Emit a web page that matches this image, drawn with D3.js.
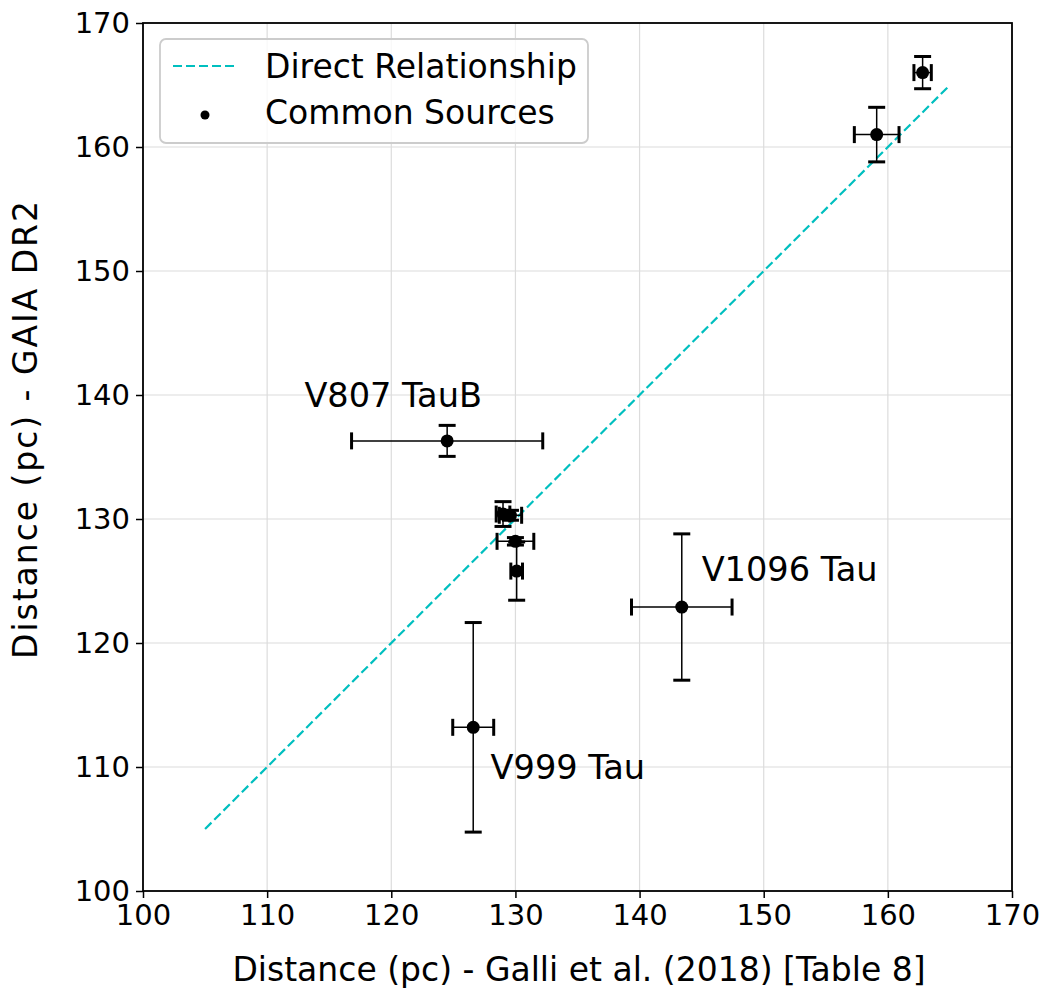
<!DOCTYPE html>
<html><head><meta charset="utf-8">
<script src="https://cdn.jsdelivr.net/npm/d3@7"></script>
<style>body{margin:0;background:#fff;} text{font-family:"DejaVu Sans",sans-serif;}</style>
</head><body>
<svg id="chart" width="1051" height="992"></svg>
<script>
// Data
const galliDist = [162.8, 159.1, 124.5, 143.4, 126.6, 129.0, 129.6, 130.0, 130.1];
const galliErr  = [0.7, 1.8, 7.7, 4.05, 1.65, 0.55, 0.9, 1.48, 0.47];
const gaiaDist  = [166.0, 161.0, 136.3, 122.9, 113.2, 130.4, 130.3, 128.2, 125.8];
const gaiaErr   = [1.3, 2.2, 1.25, 5.9, 8.45, 1.0, 0.4, 0.3, 2.35];
const labelNames = ["V807 TauB", "V1096 Tau", "V999 Tau"];
const labelX = [113, 145, 128];
const labelY = [139, 125, 109];
const directLine = [105, 165];
const xTicks = [100, 110, 120, 130, 140, 150, 160, 170];
const yTicks = [100, 110, 120, 130, 140, 150, 160, 170];

const svg = d3.select("#chart");
const L = 143, R = 1012, T = 23, B = 891;
const x = d3.scaleLinear().domain([100, 170]).range([L, R]);
const y = d3.scaleLinear().domain([100, 170]).range([B, T]);
const fsTick = 29, fs = 33;

// grid
svg.append("g").selectAll("line").data(xTicks).join("line")
  .attr("x1", d => x(d)).attr("x2", d => x(d)).attr("y1", T).attr("y2", B)
  .attr("stroke", "#dcdcdc").attr("stroke-width", 1.2);
svg.append("g").selectAll("line").data(yTicks).join("line")
  .attr("y1", d => y(d)).attr("y2", d => y(d)).attr("x1", L).attr("x2", R)
  .attr("stroke", "#dcdcdc").attr("stroke-width", 1.2);

// direct line
svg.append("line")
  .attr("x1", x(directLine[0])).attr("y1", y(directLine[0]))
  .attr("x2", x(directLine[1])).attr("y2", y(directLine[1]))
  .attr("stroke", "#00bfbf").attr("stroke-width", 2.2).attr("stroke-dasharray", "9,4");

// error bars
const pts = galliDist.map((d, i) => ({x: d, y: gaiaDist[i], xe: galliErr[i], ye: gaiaErr[i]}));
const eb = svg.append("g");
const cap = 8.5;
pts.forEach(p => {
  const g = eb.append("g");
  g.append("line").attr("x1", x(p.x - p.xe)).attr("x2", x(p.x + p.xe)).attr("y1", y(p.y)).attr("y2", y(p.y))
    .attr("stroke", "#000").attr("stroke-width", 1.5);
  g.append("line").attr("x1", x(p.x)).attr("x2", x(p.x)).attr("y1", y(p.y - p.ye)).attr("y2", y(p.y + p.ye))
    .attr("stroke", "#000").attr("stroke-width", 1.5);
  [p.x - p.xe, p.x + p.xe].forEach(v => g.append("line")
    .attr("x1", x(v)).attr("x2", x(v)).attr("y1", y(p.y) - cap).attr("y2", y(p.y) + cap)
    .attr("stroke", "#000").attr("stroke-width", 3));
  [p.y - p.ye, p.y + p.ye].forEach(v => g.append("line")
    .attr("y1", y(v)).attr("y2", y(v)).attr("x1", x(p.x) - cap).attr("x2", x(p.x) + cap)
    .attr("stroke", "#000").attr("stroke-width", 3));
});
svg.append("g").selectAll("circle").data(pts).join("circle")
  .attr("cx", d => x(d.x)).attr("cy", d => y(d.y)).attr("r", 6.5).attr("fill", "#000");

// labels
svg.append("g").selectAll("text").data(labelNames).join("text")
  .attr("x", (d, i) => x(labelX[i])).attr("y", (d, i) => y(labelY[i]))
  .attr("font-size", 33.6).attr("fill", "#000").text(d => d);

// axes
const xAxis = svg.append("g").attr("transform", `translate(0,${B})`)
  .call(d3.axisBottom(x).tickValues(xTicks).tickSize(7).tickPadding(6).tickFormat(d3.format("d")));
const yAxis = svg.append("g").attr("transform", `translate(${L},0)`)
  .call(d3.axisLeft(y).tickValues(yTicks).tickSize(7).tickPadding(6).tickFormat(d3.format("d")));
[xAxis, yAxis].forEach(a => {
  a.select(".domain").remove();
  a.selectAll("text").attr("font-size", fsTick).attr("font-family", "DejaVu Sans").attr("fill", "#000");
  a.selectAll("line").attr("stroke", "#000").attr("stroke-width", 1.5);
});
svg.append("rect").attr("x", L).attr("y", T).attr("width", R - L).attr("height", B - T)
  .attr("fill", "none").attr("stroke", "#000").attr("stroke-width", 1.8);

svg.append("text").attr("x", 579).attr("y", 981).attr("text-anchor", "middle")
  .attr("font-size", fs).text("Distance (pc) - Galli et al. (2018) [Table 8]");
svg.append("text").attr("transform", `translate(37,430) rotate(-90)`).attr("text-anchor", "middle")
  .attr("font-size", fs).attr("textLength", 458).attr("lengthAdjust", "spacing")
  .text("Distance (pc) - GAIA DR2");

// legend
const lg = svg.append("g");
lg.append("rect").attr("x", 160).attr("y", 39).attr("width", 428).attr("height", 104).attr("rx", 6)
  .attr("fill", "#fff").attr("fill-opacity", 0.8).attr("stroke", "#cccccc").attr("stroke-width", 1.8);
lg.append("line").attr("x1", 173).attr("x2", 238).attr("y1", 66).attr("y2", 66)
  .attr("stroke", "#00bfbf").attr("stroke-width", 2.2).attr("stroke-dasharray", "9,4");
lg.append("circle").attr("cx", 205).attr("cy", 115).attr("r", 4.5).attr("fill", "#000");
lg.append("text").attr("x", 265).attr("y", 78).attr("font-size", fs).text("Direct Relationship");
lg.append("text").attr("x", 265).attr("y", 124).attr("font-size", fs).text("Common Sources");
</script>
</body></html>
